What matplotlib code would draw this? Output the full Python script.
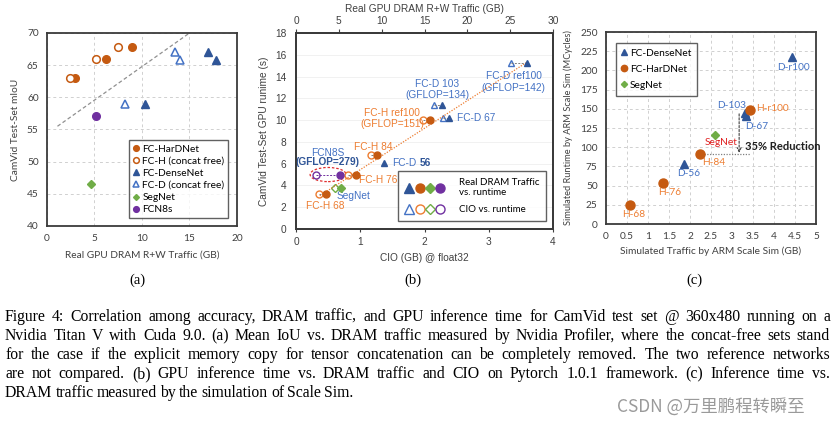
import matplotlib
matplotlib.use("Agg")
import matplotlib.pyplot as plt
from matplotlib.patches import Ellipse
from matplotlib.legend_handler import HandlerTuple

# ---- (a) mIoU vs real DRAM traffic ----
a_hard_x = [2.9, 6.2, 8.9]
a_hard_y = [63.0, 65.9, 67.8]
a_hfree_x = [2.4, 5.2, 7.5]
a_hfree_y = [63.0, 65.9, 67.8]
a_dense_x = [10.3, 17.0, 17.8]
a_dense_y = [59.0, 67.0, 65.8]
a_dfree_x = [8.2, 13.5, 14.0]
a_dfree_y = [59.0, 67.0, 65.8]
a_segnet = (4.6, 46.5)
a_fcn8s = (5.2, 57.1)
a_trend_x = [1.1, 15.0]
a_trend_y = [55.5, 70.0]

# ---- (b) runtime vs traffic / CIO ----
b_h_names = ["FC-H 68", "FC-H 76", "FC-H 84", "FC-H ref100"]
b_h_cio = [0.36, 0.81, 1.17, 1.97]
b_h_traffic = [3.5, 7.0, 9.4, 15.6]
b_h_time = [3.17, 5.0, 6.77, 10.0]
b_d_names = ["FC-D 56", "FC-D 67", "FC-D 103", "FC-D ref100"]
b_d_traffic = [10.25, 17.9, 17.1, 26.96]
b_d_time = [6.04, 10.2, 11.4, 15.24]
b_d_cio = [None, 2.29, 2.155, 3.34]
b_seg_cio, b_seg_traffic, b_seg_time = 0.61, 5.26, 3.72
b_fcn_cio, b_fcn_traffic, b_fcn_time = 0.31, 5.14, 5.0
b_trend_x = [0.37, 3.6]
b_trend_y = [3.05, 15.34]

# ---- (c) simulated runtime vs simulated traffic ----
c_dense_x = [1.85, 3.32, 3.33, 4.44]
c_dense_y = [77.5, 145.0, 140.0, 218.0]
c_hard_x = [0.57, 1.36, 2.24, 3.43]
c_hard_y = [24.5, 54.0, 90.5, 148.5]
c_segnet = (2.6, 116.0)

caption = [
    "Figure 4: Correlation among accuracy, DRAM traffic, and GPU inference time for CamVid test set @ 360x480 running on a",
    "Nvidia Titan V with Cuda 9.0. (a) Mean IoU vs. DRAM traffic measured by Nvidia Profiler, where the concat-free sets stand",
    "for the case if the explicit memory copy for tensor concatenation can be completely removed. The two reference networks",
    "are not compared. (b) GPU inference time vs. DRAM traffic and CIO on Pytorch 1.0.1 framework. (c) Inference time vs.",
    "DRAM traffic measured by the simulation of Scale Sim.",
]

ORANGE = "#C55A11"
LORANGE = "#ED7D31"
DBLUE = "#2F5597"
LBLUE = "#4472C4"
GREEN = "#70AD47"
PURPLE = "#7030A0"
SPINE = "#3A3A3A"

plt.rcParams["font.family"] = ["Lato", "DejaVu Sans"]
plt.rcParams["font.size"] = 7

W, H = 837, 425
fig = plt.figure(figsize=(W / 100, H / 100), dpi=100)


def px_axes(l, t, r, b):
    return fig.add_axes([l / W, 1 - b / H, (r - l) / W, (b - t) / H])


def style(ax, grid=True):
    for s in ax.spines.values():
        s.set_color(SPINE)
        s.set_linewidth(1.3)
    if grid:
        ax.grid(True, linestyle=(0, (3, 3)), color="#D0D0D0", linewidth=0.7)
        ax.set_axisbelow(True)
    ax.tick_params(length=0, pad=6, labelsize=7.3, colors="#404040")


# ================= (a) =================
ax = px_axes(47, 33, 237, 226)
style(ax)
ax.plot(a_trend_x, a_trend_y, linestyle=(0, (3, 2)), color="#909090", lw=0.9)
ms = 5.5
ax.plot(a_hard_x, a_hard_y, "o", color=ORANGE, ms=ms, label="FC-HarDNet")
ax.plot(a_hfree_x, a_hfree_y, "o", mfc="white", mec=ORANGE, mew=1.1, ms=ms,
        label="FC-H (concat free)")
ax.plot(a_dense_x, a_dense_y, "^", color=DBLUE, ms=ms, label="FC-DenseNet")
ax.plot(a_dfree_x, a_dfree_y, "^", mfc="white", mec=LBLUE, mew=1.1, ms=ms,
        label="FC-D (concat free)")
ax.plot([a_segnet[0]], [a_segnet[1]], "D", color=GREEN, ms=4, label="SegNet")
ax.plot([a_fcn8s[0]], [a_fcn8s[1]], "o", color=PURPLE, ms=ms, label="FCN8s")
ax.set_xlim(0, 20)
ax.set_ylim(40, 70)
ax.set_xticks([0, 5, 10, 15, 20])
ax.set_yticks(range(40, 71, 5))
ax.set_xlabel("Real GPU DRAM R+W Traffic (GB)", fontsize=7.3, color="#404040", labelpad=5)
ax.set_ylabel("CamVid Test-Set mIoU", fontsize=7.3, color="#404040", labelpad=5)
leg = ax.legend(loc="lower right", bbox_to_anchor=(0.955, 0.04), fontsize=7.3,
                frameon=True, fancybox=False, edgecolor=SPINE, handlelength=0.6,
                handletextpad=0.3, markerscale=0.75, labelspacing=0.3,
                borderpad=0.4, borderaxespad=0)
leg.get_frame().set_linewidth(1.0)

# ================= (b) =================
bx = px_axes(296, 33, 553, 229)
style(bx, grid=False)
bx.grid(True, axis="y", color="#EFEFEF", linewidth=0.6)
bx.set_axisbelow(True)
bx.tick_params(axis="y", length=0, pad=7)
bx.tick_params(axis="x", length=2, pad=4)
bx.set_xlim(0, 4)
bx.set_ylim(0, 18)
bx.set_yticks(range(0, 19, 2))
bx.set_xticks([0, 1, 2, 3, 4])
bx.set_xlabel("CIO (GB) @ float32", fontsize=7.3, color="#404040", labelpad=4,
              family=["Liberation Sans"])
bx.set_ylabel("CamVid Test-Set GPU runime (s)", fontsize=7.3, color="#404040",
              labelpad=4, family=["Liberation Sans"])
for t in bx.get_xticklabels() + bx.get_yticklabels():
    t.set_family(["Liberation Sans"])

tx = bx.twiny()
tx.set_xlim(0, 30)
tx.set_xticks(range(0, 31, 5))
tx.tick_params(length=3, pad=2, labelsize=7.3, colors="#404040")
for t in tx.get_xticklabels():
    t.set_family(["Liberation Sans"])
tx.set_xlabel("Real GPU DRAM R+W Traffic (GB)", fontsize=7.3, color="#404040",
              labelpad=3, family=["Liberation Sans"])
for s in tx.spines.values():
    s.set_color(SPINE)
    s.set_linewidth(1.3)
ratio = tx.get_xlim()[1] / bx.get_xlim()[1]

tx.plot([v * ratio for v in b_trend_x], b_trend_y, linestyle=(0, (1, 1.2)),
        color=LORANGE, lw=0.9)

# connectors between CIO (open) and real traffic (filled)
for c, tr, tm in zip(b_d_cio, b_d_traffic, b_d_time):
    if c is not None:
        tx.plot([c * ratio, tr], [tm, tm], linestyle=(0, (2, 1.5)), color="#7F7F7F", lw=0.7)
for c, tr, tm in zip(b_h_cio, b_h_traffic, b_h_time):
    tx.plot([c * ratio, tr], [tm, tm], linestyle=(0, (2, 1.5)), color="#7F7F7F", lw=0.7)
tx.plot([b_fcn_cio * ratio, b_fcn_traffic], [b_fcn_time] * 2,
        linestyle=(0, (2, 1.5)), color=PURPLE, lw=0.7)

bms = 5
d_open_x = [c for c in b_d_cio if c is not None]
d_open_y = [t for c, t in zip(b_d_cio, b_d_time) if c is not None]
bx.plot(d_open_x, d_open_y, "^", mfc="white", mec=LBLUE, mew=1.0, ms=bms)
bx.plot(b_h_cio, b_h_time, "o", mfc="white", mec=LORANGE, mew=1.0, ms=bms)
bx.plot([b_seg_cio], [b_seg_time], "D", mfc="white", mec=GREEN, mew=1.0, ms=4)
bx.plot([b_fcn_cio], [b_fcn_time], "o", mfc="white", mec=PURPLE, mew=1.0, ms=bms)
tx.plot(b_d_traffic, b_d_time, "^", color=DBLUE, ms=bms)
tx.plot(b_h_traffic, b_h_time, "o", color=ORANGE, ms=bms)
tx.plot([b_seg_traffic], [b_seg_time], "D", color=GREEN, ms=4)
tx.plot([b_fcn_traffic], [b_fcn_time], "o", color=PURPLE, ms=bms)

bx.add_patch(Ellipse((0.5, 5.0), 0.56, 1.3, fill=False, edgecolor="#E03030",
                     linestyle=(0, (2, 1.5)), lw=0.9))

bf = dict(fontsize=7.3, family=["Liberation Sans"])
bx.text(3.39, 13.5, "FC-D ref100\n(GFLOP=142)", color=LBLUE, ha="center", va="center",
        linespacing=1.15, **bf)
bx.text(2.2, 12.8, "FC-D 103\n(GFLOP=134)", color=LBLUE, ha="center", va="center",
        linespacing=1.15, **bf)
bx.text(1.5, 10.13, "FC-H ref100\n(GFLOP=151)", color=LORANGE, ha="center", va="center",
        linespacing=1.15, **bf)
bx.text(2.51, 10.2, "FC-D 67", color=LBLUE, ha="left", va="center", **bf)
bx.text(1.21, 7.56, "FC-H 84", color=LORANGE, ha="center", va="center", **bf)
bx.text(1.49, 6.04, "FC-D", color=LBLUE, ha="left", va="center", **bf)
bx.annotate("56", (1.49, 6.04), xytext=(20.2, 0), textcoords="offset points",
            color=DBLUE, ha="left", va="center", fontweight="bold", **bf)
bx.text(0.49, 6.95, "FCN8S", color=LBLUE, ha="center", va="center", **bf)
bx.text(0.49, 6.13, "(GFLOP=279)", color=DBLUE, ha="center", va="center",
        fontweight="bold", **bf)
bx.text(0.98, 4.5, "FC-H 76", color=LORANGE, ha="left", va="center", **bf)
bx.text(0.90, 3.0, "SegNet", color=LBLUE, ha="center", va="center", **bf)
bx.text(0.45, 2.13, "FC-H 68", color=LORANGE, ha="center", va="center", **bf)

lm = 6.5
f1 = [plt.Line2D([], [], marker=m, color=c, ls="", ms=s)
      for m, c, s in [("^", DBLUE, lm), ("o", ORANGE, lm), ("D", GREEN, 5), ("o", PURPLE, lm)]]
f2 = [plt.Line2D([], [], marker=m, mfc="white", mec=c, mew=1.0, ls="", ms=s)
      for m, c, s in [("^", LBLUE, lm), ("o", LORANGE, lm), ("D", GREEN, 5), ("o", PURPLE, lm)]]
bleg = tx.legend([tuple(f1), tuple(f2)], ["Real DRAM Traffic\nvs. runtime", "CIO vs. runtime"],
                 handler_map={tuple: HandlerTuple(ndivide=None, pad=0.05)},
                 loc="lower right", bbox_to_anchor=(0.973, 0.041), fontsize=7,
                 frameon=True, fancybox=False, edgecolor=SPINE, handlelength=4.2,
                 handletextpad=1.4, labelspacing=0.8, borderpad=0.7, borderaxespad=0)
bleg.get_frame().set_linewidth(1.0)

# ================= (c) =================
cx = px_axes(606, 32, 816, 224)
style(cx)
cx.set_xlim(0, 5)
cx.set_ylim(0, 250)
cx.set_xticks([i * 0.5 for i in range(11)])
cx.set_xticklabels(["0", "0.5", "1", "1.5", "2", "2.5", "3", "3.5", "4", "4.5", "5"])
cx.set_yticks(range(0, 251, 25))
cx.set_xlabel("Simulated Traffic by ARM Scale Sim (GB)", fontsize=7.3, color="#404040", labelpad=4)
cx.set_ylabel("Simulated Runtime by ARM Scale Sim (MCycles)", fontsize=6.7, color="#404040",
              labelpad=5)
cx.plot([2.33, 3.42], [90.5, 90.5], linestyle=(0, (1, 1.2)), color="#808080", lw=0.9)
cx.annotate("", xy=(3.17, 89), xytext=(3.17, 147),
            arrowprops=dict(arrowstyle="->", linestyle=(0, (2, 1.5)), color="#404040", lw=0.8))
cx.plot(c_dense_x, c_dense_y, "^", color=DBLUE, ms=6, ls="", label="FC-DenseNet")
cx.plot(c_hard_x, c_hard_y, "o", color=ORANGE, ms=6.5, ls="", label="FC-HarDNet")
cx.plot([c_segnet[0]], [c_segnet[1]], "D", color=GREEN, ms=4.5, ls="", label="SegNet")

cf = dict(fontsize=7.3)
cx.text(4.46, 204, "D-r100", color=LBLUE, ha="center", va="center", **cf)
cx.text(2.98, 154, "D-103", color=LBLUE, ha="center", va="center", **cf)
cx.text(3.31, 127, "D-67", color=LBLUE, ha="left", va="center", **cf)
cx.text(1.96, 66, "D-56", color=LBLUE, ha="center", va="center", **cf)
cx.text(3.57, 151, "H-r100", color=LORANGE, ha="left", va="center", **cf)
cx.text(2.29, 80, "H-84", color=LORANGE, ha="left", va="center", **cf)
cx.text(1.52, 41.5, "H-76", color=LORANGE, ha="center", va="center", **cf)
cx.text(0.67, 12, "H-68", color=LORANGE, ha="center", va="center", **cf)
cx.text(2.75, 106, "SegNet", color="#E02020", ha="center", va="center", **cf)
cx.text(3.3, 101, "35% Reduction", color="#202020", ha="left", va="center",
        fontsize=8, fontweight="bold")
cleg = cx.legend(loc="upper left", bbox_to_anchor=(0.048, 0.943), fontsize=7.3,
                 frameon=True, fancybox=False, edgecolor=SPINE, handlelength=0.5,
                 handletextpad=0.3, markerscale=0.7, labelspacing=0.7,
                 borderpad=0.55, borderaxespad=0)
cleg.get_frame().set_linewidth(1.0)

# ---- sub-figure labels ----
for x, s in [(137, "(a)"), (413, "(b)"), (694, "(c)")]:
    fig.text(x / W, 1 - 280 / H, s, ha="center", va="center", fontsize=10.5,
             family=["Liberation Serif"])

# ---- justified caption ----
renderer = fig.canvas.get_renderer()
x0, x1 = 5, 830
for i, line in enumerate(caption):
    y = 1 - (321 + 19 * i) / H
    words = line.split(" ")
    texts = [fig.text(0, y, w, ha="left", va="baseline", fontsize=11.3,
                      family=["Liberation Serif"], color="#000000") for w in words]
    widths = [t.get_window_extent(renderer).width for t in texts]
    if i < len(caption) - 1:
        gap = (x1 - x0 - sum(widths)) / (len(words) - 1)
    else:
        gap = 3.2
    x = x0
    for t, w in zip(texts, widths):
        t.set_x(x / W)
        x += w + gap

fig.text(617 / W, 1 - 407 / H, "CSDN @万里鹏程转瞬至", ha="left", va="center",
         fontsize=12.5, color="#9A9A9A", family=["Noto Sans CJK SC", "DejaVu Sans"])

fig.savefig("out.png", dpi=100)
